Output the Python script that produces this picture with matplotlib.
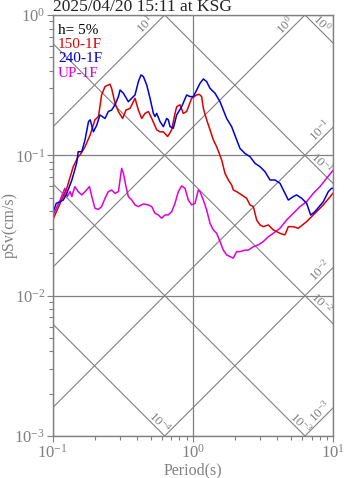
import numpy as np
import matplotlib
matplotlib.use("Agg")
import matplotlib.pyplot as plt

plt.rcParams['font.family'] = ['Liberation Serif', 'DejaVu Serif']
plt.rcParams['mathtext.fontset'] = 'custom'
plt.rcParams['mathtext.rm'] = 'Liberation Serif'
plt.rcParams['mathtext.it'] = 'Liberation Serif:italic'

# ---- data (period in s, pSv in cm/s) ----
t_150 = [0.100, 0.113, 0.126, 0.140, 0.152, 0.157, 0.170, 0.185, 0.200, 0.212,
         0.223, 0.236, 0.256, 0.263, 0.278, 0.294, 0.315, 0.333, 0.356, 0.386,
         0.408, 0.431, 0.455, 0.481, 0.508, 0.551, 0.582, 0.615, 0.660, 0.705,
         0.744, 0.765, 0.808, 0.853, 0.901, 0.978, 1.062, 1.109, 1.153, 1.185,
         1.251, 1.322, 1.396, 1.475, 1.601, 1.690, 1.786, 1.886, 1.938, 2.047,
         2.222, 2.413, 2.548, 2.692, 2.843, 3.002, 3.171, 3.443, 3.737, 4.169,
         4.524, 4.778, 5.188, 5.632, 6.457, 7.204, 8.487, 10.0]
sv_150 = [0.0346, 0.0455, 0.0582, 0.0830, 0.0978, 0.101, 0.115, 0.140, 0.179, 0.189,
          0.269, 0.309, 0.321, 0.300, 0.235, 0.205, 0.183, 0.210, 0.216, 0.255,
          0.210, 0.183, 0.199, 0.205, 0.183, 0.152, 0.147, 0.147, 0.136, 0.152,
          0.199, 0.222, 0.229, 0.199, 0.205, 0.255, 0.269, 0.272, 0.262, 0.216,
          0.179, 0.152, 0.129, 0.115, 0.0926, 0.0744, 0.0667, 0.0615, 0.0566, 0.0551,
          0.0522, 0.0494, 0.0443, 0.0431, 0.0346, 0.0319, 0.0310, 0.0319, 0.0294, 0.0278,
          0.0271, 0.0310, 0.0310, 0.0302, 0.0337, 0.0376, 0.0443, 0.0540]

t_240 = [0.100, 0.106, 0.113, 0.119, 0.126, 0.137, 0.148, 0.152, 0.161, 0.170,
         0.180, 0.185, 0.195, 0.206, 0.217, 0.236, 0.249, 0.263, 0.278, 0.294,
         0.302, 0.319, 0.346, 0.366, 0.386, 0.408, 0.426, 0.443, 0.468, 0.494,
         0.522, 0.536, 0.551, 0.582, 0.615, 0.649, 0.667, 0.686, 0.724, 0.765,
         0.830, 0.901, 0.952, 1.006, 1.062, 1.122, 1.185, 1.251, 1.322, 1.435,
         1.558, 1.645, 1.737, 1.886, 2.047, 2.162, 2.348, 2.548, 2.766, 3.002,
         3.259, 3.538, 3.841, 4.169, 4.524, 4.778, 5.188, 5.480, 5.948, 6.457,
         6.896, 7.404, 8.487, 9.213, 9.730, 10.0]
sv_240 = [0.0386, 0.0455, 0.0467, 0.0480, 0.0536, 0.0667, 0.0877, 0.106, 0.106, 0.129,
          0.174, 0.179, 0.147, 0.164, 0.194, 0.183, 0.205, 0.210, 0.229, 0.262,
          0.292, 0.277, 0.241, 0.255, 0.269, 0.335, 0.374, 0.364, 0.317, 0.255,
          0.199, 0.189, 0.199, 0.174, 0.160, 0.183, 0.179, 0.160, 0.156, 0.194,
          0.222, 0.269, 0.262, 0.262, 0.292, 0.326, 0.350, 0.335, 0.300, 0.277,
          0.241, 0.210, 0.183, 0.160, 0.129, 0.112, 0.103, 0.0978, 0.0877, 0.0830,
          0.0765, 0.0667, 0.0667, 0.0632, 0.0536, 0.0480, 0.0508, 0.0522, 0.0494, 0.0455,
          0.0375, 0.0397, 0.0467, 0.0551, 0.0582, 0.0582]

t_up = [0.100, 0.113, 0.118, 0.122, 0.127, 0.133, 0.137, 0.140, 0.144, 0.152,
        0.161, 0.170, 0.183, 0.190, 0.200, 0.212, 0.223, 0.236, 0.249, 0.263,
        0.278, 0.294, 0.310, 0.319, 0.333, 0.346, 0.366, 0.386, 0.408, 0.443,
        0.481, 0.508, 0.536, 0.566, 0.598, 0.632, 0.667, 0.705, 0.744, 0.786,
        0.830, 0.877, 0.926, 0.978, 1.034, 1.091, 1.122, 1.185, 1.251, 1.322,
        1.396, 1.475, 1.558, 1.645, 1.737, 1.835, 1.938, 2.047, 2.162, 2.348,
        2.480, 2.692, 2.922, 3.171, 3.443, 3.737, 4.169, 4.650, 5.188, 5.788,
        6.457, 7.204, 8.035, 8.963, 10.0]
sv_up = [0.0370, 0.0480, 0.0536, 0.0582, 0.0508, 0.0551, 0.0508, 0.0551, 0.0598, 0.0551,
         0.0522, 0.0551, 0.0598, 0.0508, 0.0419, 0.0412, 0.0431, 0.0494, 0.0551, 0.0566,
         0.0536, 0.0551, 0.0808, 0.0744, 0.0598, 0.0508, 0.0480, 0.0443, 0.0431, 0.0450,
         0.0443, 0.0431, 0.0386, 0.0376, 0.0356, 0.0376, 0.0376, 0.0397, 0.0455, 0.0551,
         0.0605, 0.0582, 0.0480, 0.0443, 0.0455, 0.0566, 0.0551, 0.0480, 0.0408, 0.0328,
         0.0294, 0.0278, 0.0243, 0.0211, 0.0195, 0.0190, 0.0185, 0.0206, 0.0206, 0.0211,
         0.0211, 0.0223, 0.0230, 0.0243, 0.0263, 0.0278, 0.0302, 0.0346, 0.0386, 0.0431,
         0.0467, 0.0536, 0.0598, 0.0686, 0.0786]

accel_levels = [1e1, 1e0, 1e-1, 1e-2, 1e-3]    # cm/s^2
disp_levels = [1e0, 1e-1, 1e-2, 1e-3, 1e-4]     # cm
title_text = "2025/04/20 15:11 at KSG"

gray = '#808080'
c_red = '#dd0000'
c_blue = '#0000dd'
c_mag = '#dd00dd'

fig = plt.figure(figsize=(3.47, 4.78), dpi=100)
ax = fig.add_axes([0.1519, 0.0879, 0.8086, 0.8808])
ax.set_xscale('log')
ax.set_yscale('log')
ax.set_xlim(0.1, 10)
ax.set_ylim(0.001, 1)

ax.grid(True, which='major', color=gray, lw=0.9)

# tripartite lines
tt = np.array([0.1, 10.0])
lg_x0, lg_x1, lg_y0, lg_y1 = -1.0, 1.0, -3.0, 0.0
dec = 1 / 140.3   # one pixel in decades
for a in accel_levels:
    ax.plot(tt, a * tt / (2 * np.pi), color=gray, lw=0.8)
    c = np.log10(a / (2 * np.pi))
    ex, ey = -c, 0.0
    along = 21
    if ex > lg_x1:
        ex, ey = lg_x1, lg_x1 + c
        along = 12
    px = ex - along * dec / np.sqrt(2) - 7 * dec / np.sqrt(2)
    py = ey - along * dec / np.sqrt(2) + 7 * dec / np.sqrt(2)
    ax.text(10 ** px, 10 ** py, r'$10^{%d}$' % round(np.log10(a)), rotation=45,
            ha='center', va='center', fontsize=9.5, color=gray, rotation_mode='anchor')
for d in disp_levels:
    ax.plot(tt, 2 * np.pi * d / tt, color=gray, lw=0.8)
    c = np.log10(2 * np.pi * d)
    ex, ey = lg_x1, -lg_x1 + c
    along = 23
    if ey < lg_y0:
        ex, ey = c - lg_y0, lg_y0
        along = 13
    px = ex - along * dec / np.sqrt(2) + 6 * dec / np.sqrt(2)
    py = ey + along * dec / np.sqrt(2) + 6 * dec / np.sqrt(2)
    ax.text(10 ** px, 10 ** py, r'$10^{%d}$' % round(np.log10(d)), rotation=-45,
            ha='center', va='center', fontsize=9.5, color=gray, rotation_mode='anchor')

ax.plot(t_up, sv_up, color=c_mag, lw=1.1)
ax.plot(t_150, sv_150, color=c_red, lw=1.1)
ax.plot(t_240, sv_240, color=c_blue, lw=1.1)

ax.text(0.019, 0.964, "h= 5%", transform=ax.transAxes, color='black', fontsize=11, va='center')
ax.text(0.019, 0.930, "150-1F", transform=ax.transAxes, color=c_red, fontsize=11, va='center')
ax.text(0.019, 0.896, "240-1F", transform=ax.transAxes, color=c_blue, fontsize=11, va='center')
ax.text(0.019, 0.862, "UP-1F", transform=ax.transAxes, color=c_mag, fontsize=11, va='center')

ax.set_title(title_text, loc='left', fontsize=12.5, color='#222222', pad=0)
ax.set_xlabel("Period(s)", fontsize=11.5, color=gray)
ax.set_ylabel("pSv(cm/s)", fontsize=11.5, color=gray)
ax.xaxis.set_label_coords(0.5, -0.062)
ax.yaxis.set_label_coords(-0.125, 0.5)

for s in ax.spines.values():
    s.set_color(gray)
    s.set_linewidth(1.0)
ax.tick_params(which='both', direction='out', colors=gray, labelcolor=gray,
               top=False, right=False, labelsize=12, width=0.8)
ax.tick_params(which='major', length=4.5, pad=1.0)
ax.tick_params(which='minor', length=2.8)

fig.savefig("out.png", dpi=100)
